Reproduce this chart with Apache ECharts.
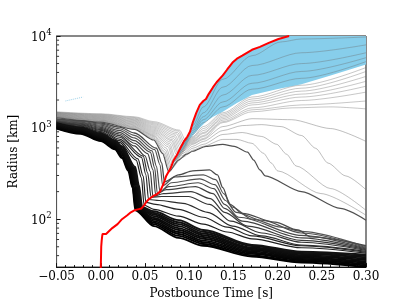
<!DOCTYPE html>
<html><head><meta charset="utf-8">
<script src="https://cdn.jsdelivr.net/npm/echarts@6/dist/echarts.min.js"></script>
<style>html,body{margin:0;padding:0;background:#fff}#c{width:407px;height:305px}</style>
</head><body><div id="c"></div>
<script>
// ---- data (time [s], radius [km]) ----
const shockRadius = [[0.000,29],[0.0005,50],[0.001,58],[0.0015,64],[0.002,69],[0.006,69],[0.008,72.5],[0.013,80],[0.019,88.4],[0.024,100],[0.030,110.5],[0.034,119],[0.038,125],[0.042,128],[0.046,131],[0.049,141.6],[0.051,152.5],[0.054,164],[0.057,172.6],[0.060,181],[0.063,186],[0.067,200],[0.069,221],[0.071,244],[0.074,297],[0.079,362],[0.082,431],[0.086,500],[0.090,595],[0.094,707],[0.098,800],[0.101,906],[0.104,1133],[0.108,1451],[0.112,1769],[0.116,1953],[0.119,2052],[0.122,2322],[0.127,2761],[0.131,3125],[0.138,3716],[0.143,4310],[0.149,5126],[0.154,5659],[0.160,6095],[0.171,7071],[0.180,7617],[0.190,8409],[0.201,9284],[0.213,10000]];

const blueLower = [[0.074,297],[0.082,400],[0.090,525],[0.101,762],[0.110,952],[0.119,1161],[0.127,1314],[0.138,1487],[0.154,1859],[0.171,2265],[0.199,2628],[0.227,2974],[0.260,3716],[0.300,4878]];

const innerShells = [
 [[-0.05,976],[-0.023,856],[0,711],[0.016,580],[0.024,464],[0.031,337],[0.036,221],[0.039,125],[0.06,84.1],[0.088,62.5],[0.116,51.3],[0.171,39.1],[0.227,33.7],[0.3,30.1]],
 [[-0.05,990],[-0.023,871],[0,727],[0.016,595],[0.024,479],[0.032,342],[0.036,223],[0.040,126],[0.06,87.7],[0.088,65.7],[0.116,53.6],[0.171,40.3],[0.227,34.7],[0.3,31.1]],
 [[-0.05,1005],[-0.023,886],[0,739],[0.016,610],[0.024,497],[0.033,345],[0.037,226],[0.041,127],[0.06,91.3],[0.088,69],[0.116,56],[0.171,41.8],[0.227,35.8],[0.3,32.2]],
 [[-0.05,1021],[-0.023,902],[0,758],[0.016,625],[0.024,513],[0.034,348],[0.038,227],[0.041,128],[0.06,95.2],[0.088,72.5],[0.116,58.4],[0.171,43.1],[0.227,36.9],[0.3,33.4]],
 [[-0.05,1036],[-0.023,918],[0,775],[0.016,641],[0.024,530],[0.035,351],[0.039,229],[0.042,129],[0.06,99.3],[0.088,76.2],[0.116,61.1],[0.171,44.5],[0.227,38],[0.3,34.5]],
 [[-0.05,1055],[-0.023,933],[0,790],[0.016,657],[0.024,548],[0.035,354],[0.040,231],[0.043,130],[0.06,103],[0.088,80],[0.116,63.9],[0.171,46.1],[0.227,39.1],[0.3,35.8]],
 [[-0.05,1071],[-0.023,949],[0,808],[0.016,673],[0.024,566],[0.036,358],[0.041,232],[0.044,131],[0.06,108],[0.088,84.1],[0.116,66.8],[0.171,47.6],[0.227,40.3],[0.3,37]],
 [[-0.05,1088],[-0.023,966],[0,825],[0.016,690],[0.024,584],[0.037,360],[0.042,234],[0.045,132],[0.06,112.5],[0.088,88.4],[0.116,69.7],[0.171,49.1],[0.227,41.7],[0.3,38.3]],
 [[-0.05,1103],[-0.023,983],[0,843],[0.016,707],[0.024,605],[0.038,363],[0.042,236],[0.046,133],[0.06,117],[0.088,92.8],[0.116,72.9],[0.171,50.9],[0.227,42.9],[0.3,39.6]],
 [[-0.05,1119],[-0.023,1000],[0,862],[0.016,725],[0.024,625],[0.039,372],[0.043,238],[0.047,135],[0.06,122],[0.088,97.6],[0.116,76.2],[0.171,52.5],[0.227,44.2],[0.3,41]]
];

const fanShells = [
 [[-0.05,1139],[-0.023,1018],[0,884],[0.021,690],[0.040,442],[0.046,283],[0.049,142],[0.060,128],[0.088,108],[0.116,88.4],[0.143,72.5],[0.171,61],[0.227,48.8],[0.3,42.6]],
 [[-0.05,1150],[-0.023,1036],[0,906],[0.021,720],[0.042,456],[0.048,295],[0.051,152.5],[0.062,145],[0.088,128],[0.116,105],[0.143,82],[0.171,65.7],[0.227,51.3],[0.3,43.6]],
 [[-0.05,1161],[-0.023,1054],[0,931],[0.021,750],[0.046,474],[0.051,307],[0.054,164],[0.066,160],[0.093,149],[0.121,119],[0.149,84.1],[0.182,65.7],[0.227,52.2],[0.3,44.6]],
 [[-0.05,1172],[-0.023,1073],[0,958],[0.021,785],[0.048,488],[0.053,320],[0.057,173],[0.069,177],[0.099,177],[0.123,145],[0.147,95.2],[0.182,70.7],[0.227,56],[0.3,45.6]],
 [[-0.05,1184],[-0.023,1092],[0,981],[0.021,816],[0.038,631],[0.050,493],[0.056,331],[0.059,177],[0.071,190.5],[0.102,200],[0.124,168],[0.140,119],[0.166,84.1],[0.227,58.7],[0.3,46.6]],
 [[-0.05,1196],[-0.023,1111],[0,1008],[0.021,851],[0.038,675],[0.053,521],[0.059,348],[0.062,186],[0.074,210],[0.107,226.5],[0.127,190.5],[0.140,131.4],[0.160,95.2],[0.227,62.5],[0.3,47.4]],
 [[-0.05,1208],[-0.023,1130],[0,1034],[0.021,888],[0.038,720],[0.056,539],[0.061,362],[0.064,190.5],[0.077,226.5],[0.110,250],[0.128,215.6],[0.140,145],[0.156,105],[0.227,66.5],[0.3,48.2]],
 [[-0.05,1220],[-0.023,1150],[0,1062],[0.021,931],[0.038,771],[0.058,556],[0.063,377],[0.067,200],[0.080,250],[0.112,276],[0.129,238],[0.141,160],[0.153,119],[0.182,97.6],[0.227,70.7],[0.3,49]],
 [[-0.05,1232],[-0.023,1170],[0,1089],[0.021,971],[0.038,821],[0.061,574],[0.067,393],[0.070,232],[0.084,290],[0.116,305],[0.130,270],[0.139,190.5],[0.149,135],[0.171,100],[0.204,82],[0.227,73.5],[0.3,50]],
 [[-0.05,1244],[-0.023,1190],[0,1119],[0.021,1013],[0.038,873],[0.063,595],[0.069,410],[0.072,256],[0.088,305],[0.104,337],[0.123,345],[0.132,305],[0.138,221],[0.146,145],[0.160,116],[0.197,92.8],[0.223,76.2],[0.238,64],[0.3,51.3]]
];

const kneeShells = [
 [[-0.05,1282],[0,1147],[0.038,958],[0.060,732],[0.070,519],[0.077,328],[0.088,442],[0.097,513],[0.104,552],[0.119,625],[0.138,657],[0.151,625],[0.166,539],[0.173,442],[0.180,345],[0.186,297],[0.227,200],[0.271,131],[0.3,97.6]],
 [[-0.05,1295],[0,1161],[0.038,976],[0.060,750],[0.071,527],[0.078,345],[0.093,476],[0.104,566],[0.116,625],[0.138,743],[0.154,743],[0.171,673],[0.184,525],[0.193,410],[0.200,337],[0.249,190.5],[0.3,110.5]],
 [[-0.05,1306],[0,1175],[0.038,994],[0.060,771],[0.072,546],[0.079,362],[0.093,500],[0.104,595],[0.116,657],[0.138,841],[0.160,884],[0.182,800],[0.199,657],[0.210,513],[0.221,381],[0.260,216],[0.3,125]],
 [[-0.05,1317],[0,1190],[0.038,1013],[0.060,796],[0.073,570],[0.080,381],[0.093,525],[0.104,625],[0.116,707],[0.138,928],[0.160,1052],[0.182,1078],[0.204,1026],[0.227,820],[0.243,595],[0.257,410],[0.277,297],[0.3,210]],
 [[-0.05,1329],[0,1205],[0.038,1032],[0.060,816],[0.074,598],[0.081,410],[0.093,552],[0.104,657],[0.116,743],[0.138,1026],[0.171,1251],[0.216,1220],[0.260,976],[0.3,707]]
];

const outerShells = [
 [[-0.05,1340],[0,1220],[0.038,1052],[0.060,837],[0.076,620],[0.082,431],[0.104,673],[0.116,762],[0.138,1133],[0.171,1487],[0.216,1642],[0.260,1683],[0.3,1602]],
 [[-0.05,1352],[0,1236],[0.038,1072],[0.060,860],[0.077,645],[0.083,453],[0.104,690],[0.116,800],[0.138,1161],[0.171,1563],[0.227,1769],[0.3,1953]],
 [[-0.05,1364],[0,1251],[0.038,1092],[0.060,884],[0.078,668],[0.084,476],[0.104,707],[0.116,820],[0.138,1205],[0.171,1642],[0.227,1977],[0.3,2440]],
 [[-0.05,1376],[0,1266],[0.038,1112],[0.060,908],[0.079,694],[0.086,500],[0.104,725],[0.116,862],[0.138,1251],[0.171,1769],[0.227,2156],[0.3,2830]],
 [[-0.05,1388],[0,1282],[0.038,1133],[0.060,933],[0.080,721],[0.087,525],[0.104,743],[0.116,884],[0.138,1298],[0.171,1859],[0.227,2322],[0.3,3203]],
 [[-0.05,1400],[0,1298],[0.038,1154],[0.060,959],[0.081,739],[0.088,539],[0.104,762],[0.116,928],[0.138,1347],[0.171,1953],[0.227,2501],[0.3,3625]],
 [[-0.05,1412],[0,1314],[0.038,1175],[0.060,986],[0.082,767],[0.089,566],[0.104,781],[0.116,976],[0.138,1399],[0.171,2052],[0.227,2694],[0.3,4102]],
 [[-0.05,1425],[0,1330],[0.038,1197],[0.060,1013],[0.083,796],[0.090,595],[0.104,800],[0.116,1026],[0.138,1451],[0.171,2156],[0.227,2901],[0.3,4529]],
 [[-0.05,1437],[0,1347],[0.038,1220],[0.060,1041],[0.084,826],[0.091,625],[0.104,841],[0.116,1133],[0.138,1683],[0.171,2628],[0.227,3450],[0.3,5254]],
 [[-0.05,1450],[0,1364],[0.038,1243],[0.060,1070],[0.086,850],[0.092,640],[0.104,884],[0.116,1220],[0.138,1905],[0.171,3048],[0.227,4102],[0.3,5801]],
 [[-0.05,1460],[0,1381],[0.038,1266],[0.060,1100],[0.087,881],[0.093,673],[0.104,928],[0.116,1314],[0.138,2265],[0.171,3716],[0.227,5000],[0.3,6565]],
 [[-0.05,1470],[0,1399],[0.038,1290],[0.060,1130],[0.088,915],[0.094,707],[0.104,976],[0.116,1451],[0.138,2761],[0.171,4759],[0.227,6565],[0.3,8003]],
 [[-0.05,1487],[0,1416],[0.038,1314],[0.060,1161],[0.089,938],[0.096,725],[0.104,1052],[0.116,1683],[0.138,3366],[0.171,6095],[0.204,8620],[0.227,9284],[0.3,9755]]
];

const faintTrace = [[-0.040,1953],[-0.020,2156]];
const yMinorTicks = [40,50,60,70,80,90,200,300,400,500,600,700,800,900,2000,3000,4000,5000,6000,7000,8000,9000];

// ---- chart ----
const FONT = 'DejaVu Serif';
const chart = echarts.init(document.getElementById('c'), null, {renderer:'canvas'});

function mkLine(data, color, width, z, smooth) {
  return {type:'line', data:data, showSymbol:false, symbol:'none', smooth:smooth, smoothMonotone:'x',
    lineStyle:{color:color, width:width}, z:z, silent:true, animation:false, emphasis:{disabled:true}};
}

const series = [];
series.push({
  type:'custom', coordinateSystem:'cartesian2d', z:1, silent:true, animation:false,
  data:[[0.1,1000]],
  renderItem:function(params, api){
    const upper = shockRadius.filter(p => p[0] >= 0.074).concat([[0.3,10000]]);
    const pts = upper.map(p => api.coord(p)).concat(blueLower.slice().reverse().map(p => api.coord(p)));
    return {type:'polygon', shape:{points:pts}, style:{fill:'#87ceeb', stroke:null}};
  }
});
outerShells.forEach(d => series.push(mkLine(d, 'rgba(105,105,105,0.42)', 0.9, 2, 0.3)));
kneeShells.forEach((d,i) => series.push(mkLine(d, i === 0 ? '#505050' : 'rgba(110,110,110,0.5)', i === 0 ? 1.2 : 0.9, 3, 0.25)));
fanShells.forEach((d,i) => {
  const g = Math.round(30 + i*7);
  series.push(mkLine(d, i === 9 ? '#4a4a4a' : 'rgb(' + g + ',' + g + ',' + g + ')', i === 9 ? 1.3 : 1.2, 4, 0.3));
});
innerShells.forEach((d,i) => {
  const g = Math.round(i*2);
  series.push(mkLine(d, 'rgb(' + g + ',' + g + ',' + g + ')', 1.9, 5, 0.3));
});
series.push({type:'line', data:faintTrace, showSymbol:false, symbol:'none', silent:true, animation:false,
  lineStyle:{color:'#9fd3ea', width:1, type:'dotted'}, z:2});
series.push(mkLine(shockRadius, '#ff0000', 2, 10, false));
series.push({
  type:'custom', coordinateSystem:'cartesian2d', z:11, silent:true, animation:false,
  data:yMinorTicks.map(v => [-0.05, v]),
  renderItem:function(params, api){
    const p = api.coord([api.value(0), api.value(1)]);
    return {type:'line', shape:{x1:p[0], y1:p[1], x2:p[0]+2.5, y2:p[1]}, style:{stroke:'#333', lineWidth:1}};
  }
});

chart.setOption({
  animation:false,
  backgroundColor:'#ffffff',
  grid:{left:51, right:41, top:36, bottom:34, show:true, borderColor:'#111', borderWidth:1, backgroundColor:'transparent'},
  xAxis:{type:'value', min:-0.05, max:0.30, interval:0.05,
    name:'Postbounce Time [s]', nameLocation:'middle', nameGap:17,
    nameTextStyle:{fontFamily:FONT, fontSize:12, color:'#000'},
    axisLine:{show:true, onZero:false, lineStyle:{color:'#111', width:1}},
    axisTick:{show:true, inside:true, length:4, lineStyle:{color:'#111'}},
    minorTick:{show:true, splitNumber:5, length:2, lineStyle:{color:'#111'}},
    splitLine:{show:false},
    axisLabel:{fontFamily:FONT, fontSize:12, color:'#000', margin:4,
      formatter:function(v){ if (Math.abs(v) < 1e-9) v = 0; return (v < 0 ? '\u2212' : '') + Math.abs(v).toFixed(2); }}
  },
  yAxis:{type:'log', logBase:10, min:30, max:10000,
    name:'Radius [km]', nameLocation:'middle', nameGap:28,
    nameTextStyle:{fontFamily:FONT, fontSize:12, color:'#000'},
    axisLine:{show:true, onZero:false, lineStyle:{color:'#555', width:1}},
    axisTick:{show:true, inside:true, length:4, lineStyle:{color:'#111'}},
    minorTick:{show:false},
    splitLine:{show:false},
    axisLabel:{color:'#000', margin:5,
      formatter:function(v){
        const e = Math.round(Math.log10(v));
        if (Math.abs(v - Math.pow(10, e)) > 1e-6 * v) return '';
        return '{b|10}{s|' + e + '}';
      },
      rich:{ b:{fontFamily:FONT, fontSize:12, color:'#000', verticalAlign:'bottom'},
             s:{fontFamily:FONT, fontSize:8.5, color:'#000', verticalAlign:'bottom', padding:[0,0,6,0]} }
    }
  },
  series:series
});
</script>
</body></html>
